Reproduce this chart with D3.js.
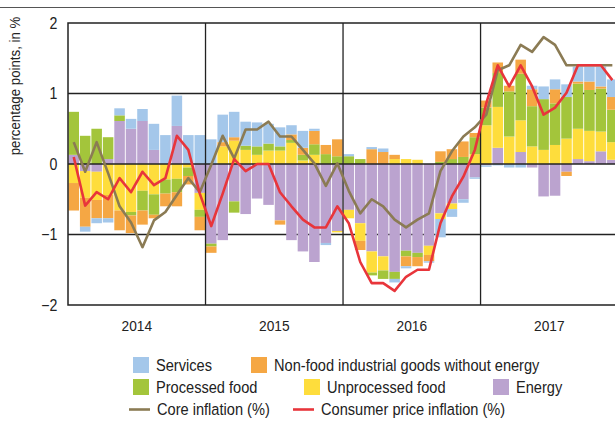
<!DOCTYPE html>
<html>
<head>
<meta charset="utf-8">
<script src="https://cdn.jsdelivr.net/npm/d3@7"></script>
<style>
  body { margin: 0; background: #fff; }
  svg { font-family: "Liberation Sans", Arial, sans-serif; }
</style>
</head>
<body>
<div class="container"></div>
<script>
// monthly, Jan 2014 - Dec 2017
var years = ["2014", "2015", "2016", "2017"];
var energy = [0.13,-0.1,-0.11,0.07,0.61,0.5,0.61,0.2,0,0.54,0,-0.41,
  -1.13,-1.08,-0.53,-0.71,-0.49,-0.58,-0.8,-1.08,-1.24,-1.39,-1.12,-0.95,
  -0.65,-0.84,-1.24,-1.31,-1.53,-1.23,-1.26,-1.16,-0.7,-0.56,-0.5,-0.19,
  -0.02,0.23,0,0.17,-0.05,-0.46,-0.45,-0.11,0.07,0.04,0.18,0.06];
var unprocessed = [-0.27,-0.38,-0.4,-0.44,-0.66,-0.68,-0.38,-0.43,-0.22,-0.21,-0.05,-0.24,
  0,0.25,0.33,0.2,0.13,0.19,0.19,0.3,0.05,0.13,0,-0.02,
  -0.12,-0.25,-0.3,-0.2,0.07,0.07,0.06,-0.13,-0.08,-0.08,0,0.14,
  0.55,0.58,0.39,0.45,0.25,0.2,0.27,0.36,0.43,0.43,0.28,0.25];
var processed = [0.61,0.4,0.5,0.31,0.08,-0.05,-0.28,-0.29,-0.2,-0.19,-0.12,-0.1,
  -0.04,0,-0.16,0.06,0.12,0.1,0.06,0.04,0.08,0.15,0.14,0.11,
  0.11,0.07,-0.04,-0.12,-0.1,-0.08,-0.06,0,0.03,0.07,0.1,0.24,
  0.25,0.48,0.64,0.66,0.57,0.72,0.59,0.59,0.64,0.58,0.61,0.46];
var nonfood = [-0.39,-0.41,-0.26,-0.33,-0.28,-0.25,-0.2,-0.05,-0.18,-0.2,-0.12,-0.19,
  -0.09,0.06,0.05,0,0,0,-0.06,0.08,0.1,0.19,0.13,0.24,
  0,-0.13,0.21,0.17,0.06,-0.14,-0.13,-0.09,0.15,0.14,0.22,0.06,
  0.1,0.15,0.08,0.2,0.24,0,0.2,-0.06,0.03,0.12,0.03,0.18];
var services = [0,-0.07,-0.07,-0.06,0.1,0.14,0.17,0.37,0.41,0.43,0.41,0.41,
  0.35,0.39,0.36,0.34,0.34,0.28,0.27,0.13,0.24,0.03,-0.03,0,
  0.03,0,0.03,0.05,-0.05,-0.03,0,-0.02,-0.26,-0.11,-0.05,-0.02,
  -0.02,-0.02,-0.05,-0.05,0.05,0.18,0.14,0.18,0.21,0.21,0.28,0.25];
var core = [0.31,-0.11,0.31,-0.13,-0.6,-0.83,-1.18,-0.8,-0.68,-0.44,-0.2,-0.4,
  -0.01,0.4,0.08,0.49,0.49,0.6,0.39,0.39,0.2,0.01,-0.31,0.01,
  -0.38,-0.7,-0.5,-0.6,-0.79,-0.9,-0.79,-0.7,-0.1,0.18,0.39,0.52,
  0.7,1.33,1.4,1.69,1.59,1.8,1.69,1.4,1.4,1.4,1.4,1.4];
var cpi = [0.1,-0.59,-0.4,-0.5,-0.2,-0.4,-0.11,-0.3,-0.2,0.4,0.2,-0.42,
  -0.88,-0.42,0.07,-0.1,0,0,-0.4,-0.6,-0.79,-0.9,-0.9,-0.6,
  -0.84,-1.39,-1.69,-1.69,-1.8,-1.6,-1.5,-1.5,-0.84,-0.46,-0.18,0.2,
  0.86,1.4,1.1,1.4,1.1,0.7,0.8,1.01,1.4,1.4,1.4,1.19];
var yTicks = [-2, -1, 0, 1, 2];

var keys = ["energy", "unprocessed", "processed", "nonfood", "services"];
var colors = {energy: "#bba3cf", unprocessed: "#fedd3c", processed: "#a3c53b",
  nonfood: "#f5a744", services: "#a4c7ea"};
var labels = {services: "Services", nonfood: "Non-food industrial goods without energy",
  processed: "Processed food", unprocessed: "Unprocessed food", energy: "Energy"};

const WIDTH = 615, HEIGHT = 423;
const LEFT = 68, TOP = 23, BOTTOM = 305;
const STEP = 11.46;
const NARROW = 0.885; // no condensed font installed, squeeze the text instead

var rows = energy.map(function(d, i) {
  return {i: i, energy: energy[i], unprocessed: unprocessed[i], processed: processed[i],
    nonfood: nonfood[i], services: services[i]};
});

var svg = d3.select('.container').append('svg')
  .attr('width', WIDTH)
  .attr('height', HEIGHT);

var t = d3.scaleLinear().domain([0, 48]).range([LEFT, LEFT + 48 * STEP]);
var x = d3.scaleBand().domain(d3.range(48)).range([LEFT, LEFT + 48 * STEP]).paddingInner(0.08).paddingOuter(0.04);
var xYear = d3.scaleBand().domain(years).range([LEFT, LEFT + 48 * STEP]);
var y = d3.scaleLinear().domain([-2, 2]).range([BOTTOM, TOP]);

// top rule
svg.append('line').attr('x1', 0).attr('x2', WIDTH).attr('y1', 7.5).attr('y2', 7.5)
  .attr('stroke', '#555').attr('stroke-width', 1);

// grid at +-1 (below bars)
svg.append('g').selectAll('line').data([-1, 1]).enter().append('line')
  .attr('x1', LEFT).attr('x2', WIDTH)
  .attr('y1', function(d){ return y(d); }).attr('y2', function(d){ return y(d); })
  .attr('stroke', '#222').attr('stroke-width', 1.3);

var series = d3.stack().keys(keys).offset(d3.stackOffsetDiverging)(rows);

svg.append('g').selectAll('g').data(series).enter().append('g')
  .attr('fill', function(s){ return colors[s.key]; })
  .selectAll('rect').data(function(s){ return s; }).enter().append('rect')
  .attr('x', function(d){ return x(d.data.i); })
  .attr('width', x.bandwidth())
  .attr('y', function(d){ return y(Math.max(d[0], d[1])); })
  .attr('height', function(d){ return Math.abs(y(d[0]) - y(d[1])); });

// zero line, frame and year separators on top of the bars
svg.append('line').attr('x1', LEFT).attr('x2', WIDTH).attr('y1', y(0)).attr('y2', y(0))
  .attr('stroke', '#222').attr('stroke-width', 1.3);
svg.append('g').selectAll('line').data([12, 24, 36]).enter().append('line')
  .attr('x1', function(d){ return t(d); }).attr('x2', function(d){ return t(d); })
  .attr('y1', TOP).attr('y2', BOTTOM)
  .attr('stroke', '#222').attr('stroke-width', 1.3);
svg.append('path')
  .attr('d', 'M' + WIDTH + ',' + TOP + 'H' + LEFT + 'V' + BOTTOM + 'H' + WIDTH)
  .attr('fill', 'none').attr('stroke', '#222').attr('stroke-width', 1.5);

var line = function(vals) {
  return d3.line()
    .x(function(d, i){ return x(i) + x.bandwidth() / 2; })
    .y(function(d){ return y(d); })(vals);
};

svg.append('path').attr('d', line(core))
  .attr('fill', 'none').attr('stroke', '#8b7b54').attr('stroke-width', 2.6)
  .attr('stroke-linejoin', 'round');
svg.append('path').attr('d', line(cpi))
  .attr('fill', 'none').attr('stroke', '#e8353b').attr('stroke-width', 2.6)
  .attr('stroke-linejoin', 'round');

// axes
var yAxis = d3.axisLeft(y).tickValues(yTicks).tickSize(0).tickPadding(12)
  .tickFormat(function(d){ return d < 0 ? '\u2212' + Math.abs(d) : d; });
var gy = svg.append('g').attr('transform', 'translate(' + LEFT + ',0)').call(yAxis);
gy.select('.domain').remove();
gy.selectAll('text').attr('font-size', 16).attr('fill', '#222').attr('font-family', null)
  .attr('transform', 'scale(' + NARROW + ',1)');

var xAxis = d3.axisBottom(xYear).tickSize(0).tickPadding(15);
var gx = svg.append('g').attr('transform', 'translate(0,' + BOTTOM + ')').call(xAxis);
gx.select('.domain').remove();
gx.selectAll('text').attr('font-size', 15.5).attr('fill', '#222').attr('font-family', null)
  .attr('transform', 'scale(' + NARROW + ',1)');

svg.append('text')
  .attr('transform', 'translate(20,86) rotate(-90) scale(' + NARROW + ',1)')
  .attr('text-anchor', 'middle')
  .attr('font-size', 15).attr('fill', '#222')
  .text('percentage points, in %');

// legend
var legendBoxes = [
  {key: 'services', x: 133, y: 357}, {key: 'nonfood', x: 251, y: 357},
  {key: 'processed', x: 133, y: 379}, {key: 'unprocessed', x: 304, y: 379},
  {key: 'energy', x: 493, y: 379}
];
var lg = svg.append('g');
legendBoxes.forEach(function(b) {
  lg.append('rect').attr('x', b.x).attr('y', b.y).attr('width', 16).attr('height', 16)
    .attr('fill', colors[b.key]);
  lg.append('text').attr('transform', 'translate(' + (b.x + 23) + ',' + (b.y + 14) + ') scale(' + NARROW + ',1)')
    .attr('font-size', 16.5).attr('fill', '#222').text(labels[b.key]);
});
var legendLines = [
  {label: 'Core inflation (%)', color: '#8b7b54', x: 129},
  {label: 'Consumer price inflation (%)', color: '#e8353b', x: 293}
];
legendLines.forEach(function(l) {
  lg.append('line').attr('x1', l.x).attr('x2', l.x + 21).attr('y1', 409.5).attr('y2', 409.5)
    .attr('stroke', l.color).attr('stroke-width', 2.6);
  lg.append('text').attr('transform', 'translate(' + (l.x + 28) + ',415) scale(' + NARROW + ',1)')
    .attr('font-size', 16.5).attr('fill', '#222').text(l.label);
});
</script>
</body>
</html>
